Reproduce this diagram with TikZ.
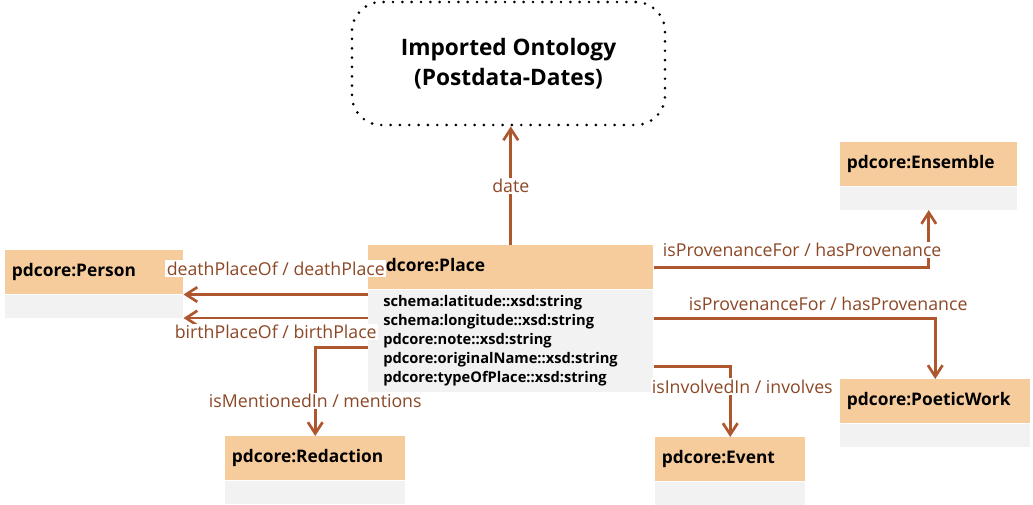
\documentclass[tikz,border=0pt]{standalone}
\usepackage{fontspec}
\setmainfont{Open Sans}
\usetikzlibrary{positioning, arrows.meta}

\definecolor{headfill}{RGB}{247,204,157}
\definecolor{bodyfill}{RGB}{242,242,242}
\definecolor{relcolor}{RGB}{174,86,46}
\definecolor{lblcolor}{RGB}{140,72,38}

\begin{document}
\begin{tikzpicture}[x=0.75pt, y=-0.75pt,
	classhead/.style={fill=headfill, anchor=north west, inner xsep=5pt, inner ysep=0pt, minimum height=33pt, text width=#1, align=left, font=\bfseries\fontsize{13}{15}\selectfont},
	classbody/.style={fill=bodyfill, inner sep=0pt, minimum width=#1, minimum height=17.25pt},
	onto/.style={draw, line width=2.2pt, dash pattern=on 0pt off 7pt, line cap=round, rounded corners=22pt, minimum width=234.75pt, minimum height=92.25pt, align=center, font=\bfseries\fontsize{17}{22.5}\selectfont},
	rel/.style={draw=relcolor, line width=2pt, -{Straight Barb[length=8.5pt,width=11pt]}},
	lbl/.style={fill=white, text=lblcolor, inner sep=1pt, font=\fontsize{13.3}{15}\selectfont}]
	\useasboundingbox (0,0) rectangle (1033,505);

	% imported ontology
	\node[onto] (onto) at (508.5,63.5) {Imported Ontology\\(Postdata-Dates)};

	% classes
	\node[classhead=203.75pt] (placehead) at (368,245) {pdcore:Place};
	\node[fill=bodyfill, inner xsep=11.25pt, inner ysep=0pt, minimum height=76.5pt, text width=191.25pt, align=left, font=\bfseries\fontsize{11}{14.25}\selectfont] (placebody) [below=0pt of placehead] {schema:latitude::xsd:string\\schema:longitude::xsd:string\\pdcore:note::xsd:string\\pdcore:originalName::xsd:string\\pdcore:typeOfPlace::xsd:string};

	\node[classhead=123.5pt] (personhead) at (5,250) {pdcore:Person};
	\node[classbody=133.5pt] (personbody) [below=0pt of personhead] {};

	\node[classhead=122.75pt] (ensemblehead) at (840,142) {pdcore:Ensemble};
	\node[classbody=132.75pt] (ensemblebody) [below=0pt of ensemblehead] {};

	\node[classhead=132.5pt] (poetichead) at (840,379) {pdcore:PoeticWork};
	\node[classbody=142.5pt] (poeticbody) [below=0pt of poetichead] {};

	\node[classhead=125pt] (redhead) at (225,436) {pdcore:Redaction};
	\node[classbody=135pt] (redbody) [below=0pt of redhead] {};

	\node[classhead=102.5pt] (eventhead) at (655,437) {pdcore:Event};
	\node[classbody=112.5pt] (eventbody) [below=0pt of eventhead] {};

	% relations
	\draw[rel] (placehead.north) -- node[lbl] (ldate) {date} (placehead.north |- onto.south);
	\draw[rel] (placebody.west |- personhead.south east) -- node[lbl, yshift=19.5pt] (ldeath) {deathPlaceOf / deathPlace} (personhead.south east);
	\draw[rel] (placebody.west |- personbody.south east) -- node[lbl, yshift=-10.5pt] (lbirth) {birthPlaceOf / birthPlace} (personbody.south east);
	\draw[rel] ([yshift=-5.25pt]placebody.west) -| node[lbl, pos=0.8] (lmention) {isMentionedIn / mentions} (redhead.north);
	\draw[rel] ([yshift=-19.5pt]placebody.east) -| node[lbl, pos=0.64, xshift=9pt] (linvolve) {isInvolvedIn / involves} (eventhead.north);
	\draw[rel] ([yshift=16.5pt]placebody.east) -| node[lbl, pos=0.31, yshift=11.25pt] (lpoetic) {isProvenanceFor / hasProvenance} (poetichead.north);
	\draw[rel] (placehead.east) -| node[lbl, pos=0.27, yshift=12.75pt] (lensemble) {isProvenanceFor / hasProvenance} (ensemblebody.south);
\end{tikzpicture}
\end{document}
